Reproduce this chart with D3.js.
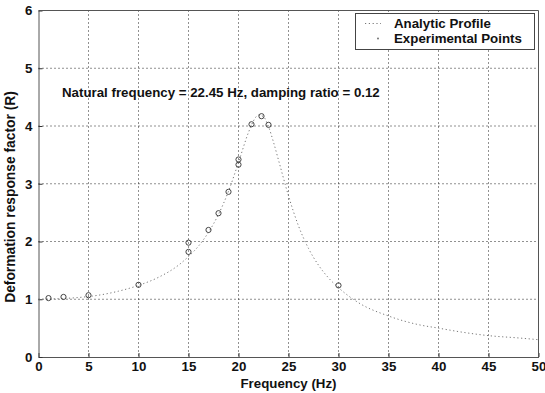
<!DOCTYPE html>
<meta charset="utf-8">
<head>
  <title>Deformation response</title>
</head>
<style>
  body { margin: 0; background: #fff; }
  text {
    font-family: "Liberation Sans", Arial, Helvetica, sans-serif;
    font-weight: bold;
    fill: #111;
  }
</style>
<body>
<script src="https://d3js.org/d3.v7.min.js"></script>
<div id="chart"></div>
<script>

// analytic profile
var analyticFreq = [0, 2, 4, 6, 8, 10, 12, 14, 15, 16, 17, 18, 19, 20, 21, 21.5, 22, 22.5, 23, 23.5, 24, 25, 26, 27, 28, 29, 30, 32, 35, 38, 40, 42, 45, 48, 50];
var analyticR = [1.00, 1.01, 1.03, 1.07, 1.14, 1.24, 1.38, 1.59, 1.74, 1.92, 2.16, 2.47, 2.87, 3.37, 3.89, 4.09, 4.19, 4.16, 3.99, 3.72, 3.41, 2.79, 2.27, 1.88, 1.59, 1.37, 1.20, 0.94, 0.71, 0.56, 0.50, 0.44, 0.37, 0.33, 0.30];

// experimental points
var expFreq = [1, 2.5, 5, 10, 15, 15, 17, 18, 19, 20, 20, 21.3, 22.3, 23, 30];
var expR = [1.02, 1.04, 1.07, 1.25, 1.82, 1.98, 2.2, 2.49, 2.86, 3.33, 3.42, 4.03, 4.17, 4.02, 1.24];

var xTicks = [0, 5, 10, 15, 20, 25, 30, 35, 40, 45, 50];
var yTicks = [0, 1, 2, 3, 4, 5, 6];
var legendLabels = ["Analytic Profile", "Experimental Points"];
var note = "Natural frequency = 22.45 Hz, damping ratio = 0.12";

var width = 545, height = 393;
var pLeft = 38.5, pRight = 538.5, pTop = 10.5, pBottom = 357;
var fs = "13.3px";

var svg = d3.select("#chart").append("svg")
  .attr("width", width)
  .attr("height", height);

var x = d3.scaleLinear().domain([0, 50]).range([pLeft, pRight]);
var y = d3.scaleLinear().domain([0, 6]).range([pBottom, pTop]);

// grid
svg.append("g").selectAll("line")
  .data(xTicks.slice(1, -1))
  .enter().append("line")
  .attr("x1", function(d) { return x(d); })
  .attr("x2", function(d) { return x(d); })
  .attr("y1", pTop).attr("y2", pBottom)
  .style("stroke", "#222")
  .style("stroke-dasharray", "1,3");

svg.append("g").selectAll("line")
  .data(yTicks.slice(1, -1))
  .enter().append("line")
  .attr("x1", pLeft).attr("x2", pRight)
  .attr("y1", function(d) { return y(d); })
  .attr("y2", function(d) { return y(d); })
  .style("stroke", "#222")
  .style("stroke-dasharray", "1,3");

// axes
var xAxis = svg.append("g")
  .attr("transform", "translate(0," + pBottom + ")")
  .call(d3.axisBottom(x).tickValues(xTicks).tickFormat(d3.format("d"))
    .tickSizeInner(-4).tickSizeOuter(0).tickPadding(5));
var yAxis = svg.append("g")
  .attr("transform", "translate(" + pLeft + ",0)")
  .call(d3.axisLeft(y).tickValues(yTicks).tickFormat(d3.format("d"))
    .tickSizeInner(-4).tickSizeOuter(0).tickPadding(6));

[xAxis, yAxis].forEach(function(a) {
  a.select(".domain").style("stroke", "#555");
  a.selectAll(".tick line").style("stroke", "#333");
  a.selectAll("text")
    .style("font-size", fs)
    .style("font-family", "\"Liberation Sans\", Arial, sans-serif")
    .style("font-weight", "bold")
    .style("fill", "#111");
});

// box top and right
svg.append("line").attr("x1", pLeft).attr("x2", pRight).attr("y1", pTop).attr("y2", pTop)
  .style("stroke", "#555");
svg.append("line").attr("x1", pRight).attr("x2", pRight).attr("y1", pTop).attr("y2", pBottom)
  .style("stroke", "#555");

// analytic curve
var line = d3.line()
  .x(function(d, i) { return x(analyticFreq[i]); })
  .y(function(d) { return y(d); })
  .curve(d3.curveMonotoneX);

svg.append("path")
  .datum(analyticR)
  .attr("d", line)
  .style("fill", "none")
  .style("stroke", "#777")
  .style("stroke-width", 1)
  .style("stroke-dasharray", "1.2,2.6");

// experimental points
svg.append("g").selectAll("circle")
  .data(expR)
  .enter().append("circle")
  .attr("cx", function(d, i) { return x(expFreq[i]); })
  .attr("cy", function(d) { return y(d); })
  .attr("r", 2.6)
  .style("fill", "none")
  .style("stroke", "#444")
  .style("stroke-width", 1);

// annotation
svg.append("text")
  .attr("x", 62)
  .attr("y", 97)
  .style("font-size", fs)
  .text(note);

// axis titles
svg.append("text")
  .attr("x", (pLeft + pRight) / 2)
  .attr("y", 388)
  .attr("text-anchor", "middle")
  .style("font-size", fs)
  .text("Frequency (Hz)");

svg.append("text")
  .attr("transform", "translate(15,197) rotate(-90)")
  .attr("text-anchor", "middle")
  .style("font-size", "13.8px")
  .text("Deformation response factor (R)");

// legend
var lg = svg.append("g");
lg.append("rect")
  .attr("x", 355.5).attr("y", 13.5)
  .attr("width", 179).attr("height", 36)
  .style("fill", "#fff")
  .style("stroke", "#444");
lg.append("line")
  .attr("x1", 365).attr("x2", 381).attr("y1", 23.5).attr("y2", 23.5)
  .style("stroke", "#777")
  .style("stroke-dasharray", "1.2,2.6");
lg.append("circle")
  .attr("cx", 378).attr("cy", 38.5).attr("r", 0.9)
  .style("fill", "#666");
lg.selectAll("text.leg")
  .data(legendLabels)
  .enter().append("text")
  .attr("class", "leg")
  .attr("x", 394)
  .attr("y", function(d, i) { return 27.5 + i * 15; })
  .style("font-size", fs)
  .text(function(d) { return d; });

</script>
</body>
</html>
